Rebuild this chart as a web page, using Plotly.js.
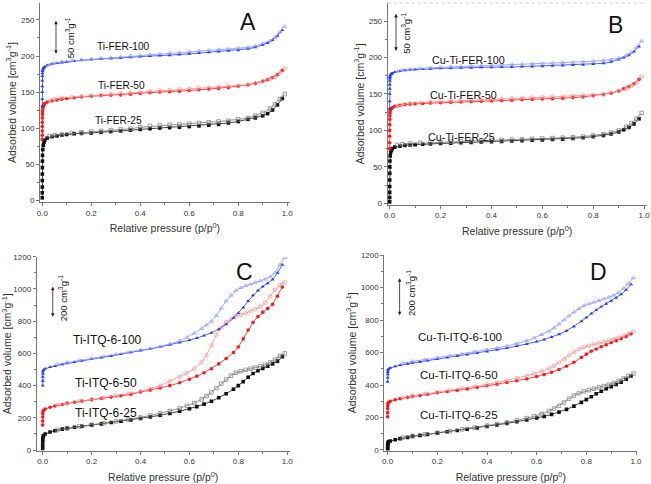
<!DOCTYPE html>
<html><head><meta charset="utf-8">
<script src="https://cdn.plot.ly/plotly-3.0.1.min.js"></script>
<style>html,body{margin:0;padding:0;background:#fff}#chart{width:651px;height:484px}</style>
</head><body><div id="chart"></div>
<script>
// ---------- Data ----------
// Relative pressure points, FER panels (A, B)
const P_FER_ADS = [0.00001,0.00003,0.00006,0.0001,0.0002,0.0004,0.0007,0.001,0.002,0.004,0.007,0.01,0.02,0.04,0.06,0.08,0.1,0.13,0.16,0.2,0.24,0.28,0.32,0.36,0.4,0.44,0.48,0.52,0.56,0.6,0.64,0.68,0.72,0.76,0.8,0.84,0.87,0.9,0.92,0.94,0.96,0.98];
const P_FER_DES = [0.99,0.97,0.95,0.93,0.9,0.87,0.84,0.8,0.76,0.72,0.68,0.64,0.6,0.56,0.52,0.48,0.44,0.4,0.36,0.32,0.28,0.24,0.2,0.16,0.12,0.08,0.05,0.03];

// Panel A
const TiFER25_ads  = [3,10,18,27,36,45,54,62,70,76,80,83,86,88,89,90,91,92,92.5,93,94,95,96,97,98,99,100,100.5,101,102,103,104,105,107,109,112,114,117,120,125,132,141];
const TiFER25_des  = [147,140,133,127,121,117,114,112,110,109,108,107,106,105,104.5,104,103,101,99,98,97,96,95,94,93,91,90,89];
const TiFER50_ads  = [84,90,96,102,108,114,119,123,127,130,132,134,136,138,139,140,141,142,143,144,145,145.5,146,147,148,149,150,150.5,151,152,153,154,155,156,158,160,162,165,167,170,174,180];
const TiFER50_des  = [183,176,171,168,165,162,160,159,158,157,156,155,154.5,154,153,152,151,150,149,148,147,146,145,144,143,142,140,138];
const TiFER100_ads = [130,140,150,158,166,172,176,179,181,183,184,185,187,189,190,191,192,193,194,195,196,196.5,197,198,199,200,200.5,201,202,203,204,205,206,207,208,210,212,215,218,222,228,236];
const TiFER100_des = [241,233,226,221,217,214,212,211,210,209,208,207,206,205,204,203,202,201,200,199,198,197,196,195,194,192,190,188];

// Panel B
const CuTiFER25_ads  = [2,8,15,23,32,41,50,58,65,70,73,75,77,78.5,79.5,80,80.5,81,81.5,82,82.5,83,83.5,84,84.5,85,85.5,86,86.5,87,87.5,88,89,90,91.5,93,95,98,101,104,109,116];
const CuTiFER25_des  = [124,116,110,105,100,97,95,93,91.5,90.5,90,89.5,89,88.5,88,87.5,87,86.5,86,85.5,85,84.5,84,83.5,83,82,81,80];
const CuTiFER50_ads  = [75,83,92,100,108,115,120,124,127,129,130,131,133,134.5,135.5,136,136.5,137,137.5,138,138.5,139,139.5,140,140.5,141,141.5,142,142.5,143,143.5,144,145,146,147.5,149,151,154,157,160,164,170];
const CuTiFER50_des  = [174,166,161,157,154,152,150,149,148,147,146.5,146,145.5,145,144.5,144,143.5,143,142.5,142,141,140.5,140,139,138,137,135,133];
const CuTiFER100_ads = [130,140,150,157,163,168,171,173,175,176.5,177.5,178.5,180,181.5,182.5,183,183.5,184,184.5,185,185.5,186,186,186.5,186.5,187,187,187.5,187.5,188,188.5,189,189.5,190,191,192,194,197,200,203,208,215];
const CuTiFER100_des = [223,214,207,203,199,197,196,195,194,193.5,193,192.5,192,191.5,191,190.5,190,189.5,189,188.5,188,187.5,187,186,185,184,183,181];

// Relative pressure points, ITQ-6 panels (C, D)
const P_ITQ_ADS = [0.00001,0.00003,0.0001,0.0003,0.001,0.003,0.01,0.03,0.05,0.08,0.1,0.13,0.16,0.2,0.24,0.28,0.32,0.36,0.4,0.44,0.48,0.52,0.56,0.6,0.63,0.66,0.69,0.72,0.75,0.78,0.8,0.82,0.84,0.86,0.88,0.9,0.92,0.94,0.96,0.98];
const P_ITQ_DES = [0.99,0.97,0.95,0.93,0.91,0.89,0.87,0.85,0.83,0.81,0.79,0.77,0.75,0.73,0.71,0.69,0.67,0.65,0.62,0.59,0.56,0.52,0.48,0.44,0.4,0.35,0.3,0.25,0.2,0.15,0.1,0.06];

// Panel C
const TiITQ25_ads  = [10,30,50,65,78,88,100,112,120,130,135,142,148,155,163,171,179,187,196,206,216,227,241,257,270,285,303,325,350,378,400,425,452,475,492,507,520,535,552,580];
const TiITQ25_des  = [600,585,562,545,530,520,512,505,498,490,480,462,438,412,385,358,335,315,292,275,260,243,228,215,203,190,178,167,157,147,137,125];
const TiITQ50_ads  = [155,180,205,225,238,246,255,266,274,283,290,297,304,313,321,329,337,346,360,372,385,400,418,440,458,480,505,535,568,605,640,690,745,792,828,856,878,905,955,1012];
const TiITQ50_des  = [1042,1025,995,955,915,890,875,862,850,840,830,815,795,760,715,650,590,545,505,478,455,428,400,380,364,350,337,325,314,303,292,280];
const TiITQ100_ads = [400,430,455,475,488,497,505,515,522,532,538,546,554,564,574,584,595,606,617,628,640,653,667,682,695,710,728,750,780,820,850,885,925,960,990,1015,1035,1058,1098,1150];
const TiITQ100_des = [1195,1150,1100,1075,1060,1050,1040,1030,1020,1008,990,960,925,880,835,800,775,755,725,700,678,658,642,630,620,607,594,582,570,558,545,532];

// Panel D
const CuTiITQ25_ads  = [5,15,25,35,43,50,55,63,70,78,84,90,96,104,112,120,128,136,145,154,164,174,185,197,207,219,233,250,270,293,310,328,346,362,377,390,403,417,435,455];
const CuTiITQ25_des  = [470,455,440,425,412,402,393,385,377,369,360,350,335,315,292,272,255,240,222,208,196,182,170,160,150,138,127,116,106,96,87,76];
const CuTiITQ50_ads  = [205,230,255,272,284,292,300,309,316,324,329,336,343,352,360,368,376,385,395,405,415,426,438,452,464,478,495,515,540,570,590,608,622,635,648,660,672,684,698,715];
const CuTiITQ50_des  = [730,715,703,692,682,673,665,657,650,642,633,620,603,582,560,538,518,502,485,470,457,442,428,415,404,391,379,367,356,345,334,322];
const CuTiITQ100_ads = [420,445,465,480,490,498,505,515,522,530,536,543,550,560,569,578,587,596,606,616,627,639,652,667,680,695,712,733,760,792,815,840,862,882,900,918,937,958,985,1020];
const CuTiITQ100_des = [1060,1025,995,970,952,940,930,920,910,900,888,870,850,825,800,775,752,732,710,690,672,655,640,628,617,604,592,580,569,557,546,535];

// Labels
const LABELS_A = ['Ti-FER-100','Ti-FER-50','Ti-FER-25'];
const LABELS_B = ['Cu-Ti-FER-100','Cu-Ti-FER-50','Cu-Ti-FER-25'];
const LABELS_C = ['Ti-ITQ-6-100','Ti-ITQ-6-50','Ti-ITQ-6-25'];
const LABELS_D = ['Cu-Ti-ITQ-6-100','Cu-Ti-ITQ-6-50','Cu-Ti-ITQ-6-25'];
const PANEL_LETTERS = ['A','B','C','D'];
const X_TICKS = [0,0.2,0.4,0.6,0.8,1.0];
const X_TICKTEXT = ['0.0','0.2','0.4','0.6','0.8','1.0'];

// ---------- Styles ----------
const STY = {
  blue:  {c:'#1f3cff', l:'#8a96ff', sym:'triangle-up'},
  red:   {c:'#ff1616', l:'#ff8a8a', sym:'circle'},
  black: {c:'#111111', l:'#777777', sym:'square'}
};
const FONT = 'Liberation Sans, Arial, sans-serif';

function pair(xa, ya, pA, ads, pD, des, st, name){
  return [
    {x:pA, y:ads, xaxis:xa, yaxis:ya, type:'scatter', mode:'lines+markers', name:name+' ads',
     line:{color:st.c, width:0.8}, marker:{symbol:st.sym, size:3.6, color:st.c}},
    {x:pD, y:des, xaxis:xa, yaxis:ya, type:'scatter', mode:'lines+markers', name:name+' des',
     line:{color:st.l, width:0.8}, marker:{symbol:st.sym+'-open', size:3.6, color:st.l, line:{width:0.7}}}
  ];
}

const traces = [].concat(
  pair('x','y',P_FER_ADS,TiFER25_ads,P_FER_DES,TiFER25_des,STY.black,LABELS_A[2]),
  pair('x','y',P_FER_ADS,TiFER50_ads,P_FER_DES,TiFER50_des,STY.red,LABELS_A[1]),
  pair('x','y',P_FER_ADS,TiFER100_ads,P_FER_DES,TiFER100_des,STY.blue,LABELS_A[0]),
  pair('x2','y2',P_FER_ADS,CuTiFER25_ads,P_FER_DES,CuTiFER25_des,STY.black,LABELS_B[2]),
  pair('x2','y2',P_FER_ADS,CuTiFER50_ads,P_FER_DES,CuTiFER50_des,STY.red,LABELS_B[1]),
  pair('x2','y2',P_FER_ADS,CuTiFER100_ads,P_FER_DES,CuTiFER100_des,STY.blue,LABELS_B[0]),
  pair('x3','y3',P_ITQ_ADS,TiITQ25_ads,P_ITQ_DES,TiITQ25_des,STY.black,LABELS_C[2]),
  pair('x3','y3',P_ITQ_ADS,TiITQ50_ads,P_ITQ_DES,TiITQ50_des,STY.red,LABELS_C[1]),
  pair('x3','y3',P_ITQ_ADS,TiITQ100_ads,P_ITQ_DES,TiITQ100_des,STY.blue,LABELS_C[0]),
  pair('x4','y4',P_ITQ_ADS,CuTiITQ25_ads,P_ITQ_DES,CuTiITQ25_des,STY.black,LABELS_D[2]),
  pair('x4','y4',P_ITQ_ADS,CuTiITQ50_ads,P_ITQ_DES,CuTiITQ50_des,STY.red,LABELS_D[1]),
  pair('x4','y4',P_ITQ_ADS,CuTiITQ100_ads,P_ITQ_DES,CuTiITQ100_des,STY.blue,LABELS_D[0])
);

function xaxis(domain, range, anchor){
  return {domain:domain, range:range, anchor:anchor, showgrid:false, zeroline:false,
    showline:true, linecolor:'#777', linewidth:1, ticks:'outside', ticklen:3, tickcolor:'#777',
    tickvals:X_TICKS, ticktext:X_TICKTEXT, tickfont:{size:8, color:'#333', family:FONT},
    minor:{ticks:'outside', ticklen:2, tickcolor:'#777', tickvals:[0.1,0.3,0.5,0.7,0.9]},
    title:{text:'Relative pressure (p/p<sup>0</sup>)', font:{size:10.5, color:'#333', family:FONT}, standoff:8}};
}
function yaxis(domain, range, anchor, dtick, minorDt){
  return {domain:domain, range:range, anchor:anchor, showgrid:false, zeroline:false,
    showline:true, linecolor:'#777', linewidth:1, ticks:'outside', ticklen:3, tickcolor:'#777',
    dtick:dtick, tick0:0, tickfont:{size:8, color:'#333', family:FONT},
    minor:{ticks:'outside', ticklen:2, tickcolor:'#777', dtick:minorDt, tick0:0},
    title:{text:'Adsorbed volume [cm<sup>3</sup>g<sup>-1</sup>]', font:{size:10.5, color:'#333', family:FONT}, standoff:2}};
}

function lab(xr, yr, x, y, text, size){
  return {xref:xr, yref:yr, x:x, y:y, text:text, showarrow:false, font:{size:size||10, color:'#111', family:FONT}};
}
function dblArrow(xr, yr, x, y0, y1, dash){
  return {xref:xr, yref:yr, axref:xr, ayref:yr, x:x, y:y1, ax:x, ay:y0, text:'', showarrow:true,
    arrowhead:2, arrowside:'end+start', arrowsize:0.9, arrowwidth:0.8, arrowcolor:'#222', standoff:0, startstandoff:0};
}
function rotText(xr, yr, x, y, text){
  return {xref:xr, yref:yr, x:x, y:y, text:text, showarrow:false, textangle:-90, font:{size:9.5, color:'#111', family:FONT}};
}

const annotations = [
  lab('x','y',0.333,212.5,LABELS_A[0],10.2), lab('x','y',0.325,159.7,LABELS_A[1],10.2), lab('x','y',0.313,111,LABELS_A[2],10.2),
  lab('x2','y2',0.308,196.6,LABELS_B[0],10.8), lab('x2','y2',0.292,148.6,LABELS_B[1],10.8), lab('x2','y2',0.283,91.4,LABELS_B[2],10.8),
  lab('x3','y3',0.267,683,LABELS_C[0],12), lab('x3','y3',0.258,414,LABELS_C[1],12), lab('x3','y3',0.259,228,LABELS_C[2],12),
  lab('x4','y4',0.291,697,LABELS_D[0],11.5), lab('x4','y4',0.287,462,LABELS_D[1],11.5), lab('x4','y4',0.287,215,LABELS_D[2],11.5),
  lab('x','y',0.84,247,PANEL_LETTERS[0],23), lab('x2','y2',0.886,244.6,PANEL_LETTERS[1],23),
  lab('x3','y3',0.827,1105,PANEL_LETTERS[2],23), lab('x4','y4',0.847,1095,PANEL_LETTERS[3],23),
  dblArrow('x','y',0.056,201,249), rotText('x','y',0.113,226,'50 cm<sup>3</sup>g<sup>-1</sup>'),
  dblArrow('x2','y2',0.025,207,260), rotText('x2','y2',0.064,234,'50 cm<sup>3</sup>g<sup>-1</sup>'),
  dblArrow('x3','y3',0.041,818,1014), rotText('x3','y3',0.084,944,'200 cm<sup>3</sup>g<sup>-1</sup>'),
  dblArrow('x4','y4',0.048,820,1057), rotText('x4','y4',0.094,966,'200 cm<sup>3</sup>g<sup>-1</sup>')
];

const layout = {
  width:651, height:484, margin:{l:0,r:0,t:0,b:0}, paper_bgcolor:'#fff', plot_bgcolor:'#fff',
  showlegend:false, font:{family:FONT},
  xaxis:  xaxis([0.0614,0.4453],[-0.0094,1.011],'y'),
  yaxis:  yaxis([0.5826,0.9938],[-2.8,273.6],'x',50,25),
  xaxis2: xaxis([0.5955,0.9932],[-0.0079,1.0095],'y2'),
  yaxis2: yaxis([0.5771,0.9938],[-1.9,274.8],'x2',50,25),
  xaxis3: xaxis([0.0564,0.4450],[-0.0245,1.010],'y3'),
  yaxis3: yaxis([0.0686,0.4696],[-4.3,1200],'x3',200,100),
  xaxis4: xaxis([0.5903,0.9790],[-0.0137,1.0053],'y4'),
  yaxis4: yaxis([0.0690,0.4731],[-3.7,1200],'x4',200,100),
  annotations: annotations,
  shapes:[{type:'line', xref:'paper', yref:'paper', x0:0.5955, x1:0.9932, y0:0.9938, y1:0.9938,
           line:{color:'#c8cfe0', width:1, dash:'dot'}}]
};

Plotly.newPlot('chart', traces, layout, {staticPlot:true, displayModeBar:false});
</script>
</body></html>
